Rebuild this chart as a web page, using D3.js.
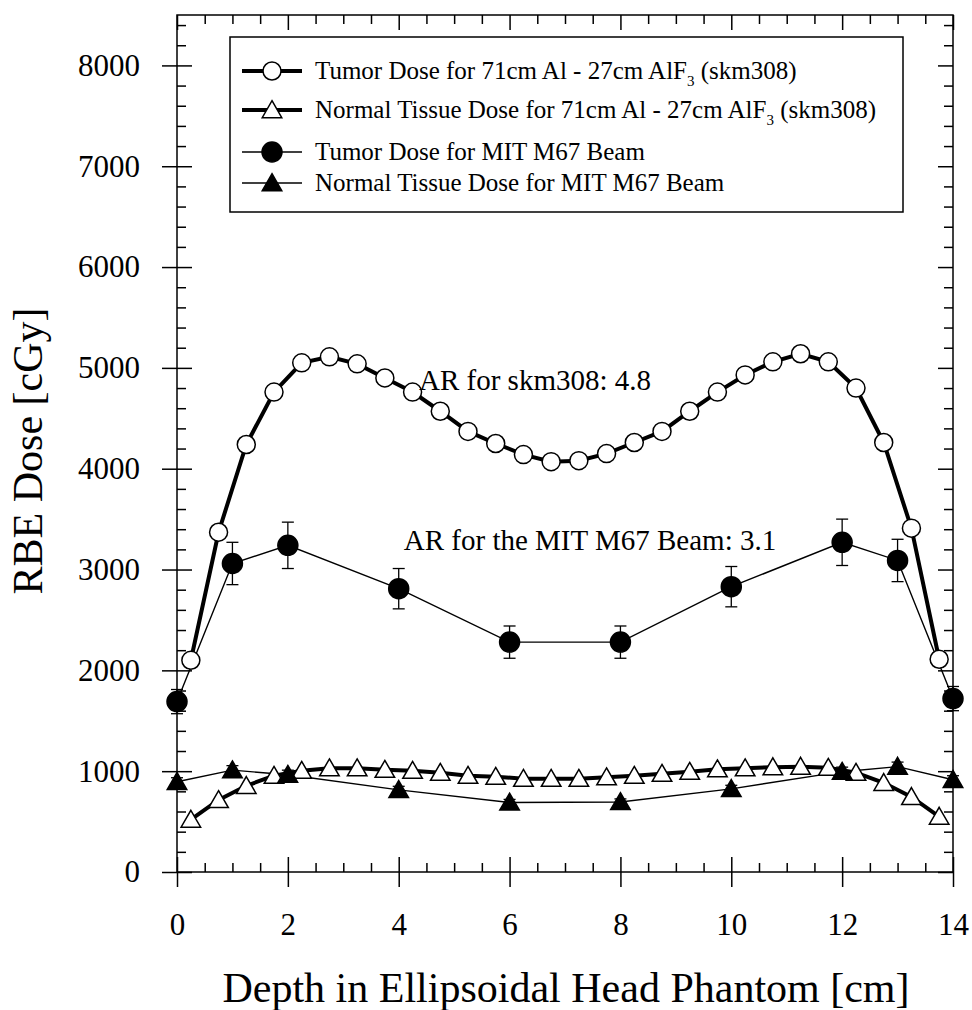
<!DOCTYPE html>
<html>
<head>
<meta charset="utf-8">
<script src="https://cdn.jsdelivr.net/npm/d3@7"></script>
<style>
  body { margin: 0; background: #fff; }
  svg text { font-family: "Liberation Serif", "Times New Roman", serif; fill: #000; }
</style>
</head>
<body>
<div id="chart"></div>
<script>
// skm308 series (every 0.5 cm starting at 0.25)
const skmDepth = [0.25, 0.75, 1.25, 1.75, 2.25, 2.75, 3.25, 3.75, 4.25, 4.75, 5.25, 5.75, 6.25, 6.75,
  7.25, 7.75, 8.25, 8.75, 9.25, 9.75, 10.25, 10.75, 11.25, 11.75, 12.25, 12.75, 13.25, 13.75];
const skmTumor = [2100, 3370, 4240, 4760, 5050, 5110, 5040, 4900, 4760, 4570, 4370, 4250, 4140, 4070,
  4080, 4150, 4260, 4370, 4570, 4760, 4930, 5060, 5140, 5060, 4800, 4260, 3410, 2110];
const skmNormal = [520, 715, 855, 955, 1005, 1030, 1030, 1015, 1005, 985, 955, 945, 925, 925,
  925, 940, 955, 975, 995, 1020, 1030, 1040, 1045, 1035, 985, 885, 745, 550];

// MIT M67 beam series
const mitDepth = [0, 1, 2, 4, 6, 8, 10, 12, 13, 14];
const mitTumor = [1690, 3060, 3240, 2810, 2280, 2280, 2830, 3270, 3090, 1720];
const mitTumorErr = [120, 210, 230, 200, 160, 160, 200, 230, 210, 120];
const mitNormal = [895, 1010, 965, 815, 690, 695, 825, 995, 1045, 915];
const mitNormalErr = [40, 45, 45, 35, 30, 30, 35, 45, 45, 40];

const xMajor = [0, 2, 4, 6, 8, 10, 12, 14];
const yMajor = [0, 1000, 2000, 3000, 4000, 5000, 6000, 7000, 8000];

const legendItems = [
  { text: "Tumor Dose for 71cm Al - 27cm AlF", sub: "3", tail: " (skm308)", mark: "circle", filled: false, thick: true },
  { text: "Normal Tissue Dose for 71cm Al - 27cm AlF", sub: "3", tail: " (skm308)", mark: "triangle", filled: false, thick: true },
  { text: "Tumor Dose for MIT M67 Beam", mark: "circle", filled: true, thick: false },
  { text: "Normal Tissue Dose for MIT M67 Beam", mark: "triangle", filled: true, thick: false }
];

const W = 972, H = 1010;
const pLeft = 177, pRight = 953, pTop = 15, pBottom = 872;

const svg = d3.select('#chart').append('svg')
  .attr('width', W).attr('height', H);

const x = d3.scaleLinear().domain([0, 14]).range([pLeft, pRight]);
const y = d3.scaleLinear().domain([0, 8500]).range([pBottom, pTop]);

const xMinor = d3.range(0, 14.01, 0.5).filter(v => v % 2 !== 0);
const yMinor = d3.range(0, 8500, 200).filter(v => v % 1000 !== 0);

// frame
svg.append('rect')
  .attr('x', pLeft).attr('y', pTop)
  .attr('width', pRight - pLeft).attr('height', pBottom - pTop)
  .attr('fill', 'none').attr('stroke', '#000').attr('stroke-width', 1.5);

function styleAxis(g) {
  g.select('.domain').remove();
  g.selectAll('.tick line').attr('stroke', '#000').attr('stroke-width', 1.5);
  g.selectAll('.tick text').style('font-size', '31px');
}

// left axis: labels + crossing major ticks + inner minor ticks
svg.append('g').attr('transform', `translate(${pLeft},0)`)
  .call(d3.axisLeft(y).tickValues(yMajor).tickSize(15).tickPadding(22).tickFormat(d3.format('d')))
  .call(styleAxis);
svg.append('g').attr('transform', `translate(${pLeft},0)`)
  .call(d3.axisRight(y).tickValues(yMajor).tickSize(15).tickFormat(''))
  .call(styleAxis);
svg.append('g').attr('transform', `translate(${pLeft},0)`)
  .call(d3.axisRight(y).tickValues(yMinor).tickSize(9).tickFormat(''))
  .call(styleAxis);

// right axis: inward ticks
svg.append('g').attr('transform', `translate(${pRight},0)`)
  .call(d3.axisLeft(y).tickValues(yMajor).tickSize(15).tickFormat(''))
  .call(styleAxis);
svg.append('g').attr('transform', `translate(${pRight},0)`)
  .call(d3.axisLeft(y).tickValues(yMinor).tickSize(9).tickFormat(''))
  .call(styleAxis);

// bottom axis
svg.append('g').attr('transform', `translate(0,${pBottom})`)
  .call(d3.axisBottom(x).tickValues(xMajor).tickSize(15).tickPadding(26).tickFormat(d3.format('d')))
  .call(styleAxis);
svg.append('g').attr('transform', `translate(0,${pBottom})`)
  .call(d3.axisTop(x).tickValues(xMajor).tickSize(15).tickFormat(''))
  .call(styleAxis);
svg.append('g').attr('transform', `translate(0,${pBottom})`)
  .call(d3.axisTop(x).tickValues(xMinor).tickSize(9).tickFormat(''))
  .call(styleAxis);

// top axis: inward ticks
svg.append('g').attr('transform', `translate(0,${pTop})`)
  .call(d3.axisBottom(x).tickValues(xMajor).tickSize(15).tickFormat(''))
  .call(styleAxis);
svg.append('g').attr('transform', `translate(0,${pTop})`)
  .call(d3.axisBottom(x).tickValues(xMinor).tickSize(9).tickFormat(''))
  .call(styleAxis);

// axis titles
svg.append('text')
  .attr('transform', 'translate(42,451) rotate(-90)')
  .attr('text-anchor', 'middle')
  .style('font-size', '42px')
  .text('RBE Dose [cGy]');

svg.append('text')
  .attr('x', 566).attr('y', 1002)
  .attr('text-anchor', 'middle')
  .style('font-size', '42px')
  .text('Depth in Ellipsoidal Head Phantom [cm]');

// series
const plot = svg.append('g');
const line = d3.line().x(d => x(d[0])).y(d => y(d[1]));

function zip(a, b) { return a.map((v, i) => [v, b[i]]); }

const triSym = d3.symbol().type(d3.symbolTriangle);

function drawMarkers(data, mark, filled, size) {
  if (mark === 'circle') {
    plot.selectAll(null).data(data).enter().append('circle')
      .attr('cx', d => x(d[0])).attr('cy', d => y(d[1]))
      .attr('r', size)
      .attr('fill', filled ? '#000' : '#fff')
      .attr('stroke', '#000').attr('stroke-width', 1.5);
  } else {
    plot.selectAll(null).data(data).enter().append('path')
      .attr('d', triSym.size(size)())
      .attr('transform', d => `translate(${x(d[0])},${y(d[1]) + 2})`)
      .attr('fill', filled ? '#000' : '#fff')
      .attr('stroke', '#000').attr('stroke-width', 1.5);
  }
}

function drawErrors(depths, vals, errs) {
  const g = plot.selectAll(null).data(depths.map((d, i) => [d, vals[i], errs[i]])).enter().append('g');
  g.append('line')
    .attr('x1', d => x(d[0])).attr('x2', d => x(d[0]))
    .attr('y1', d => y(d[1] - d[2])).attr('y2', d => y(d[1] + d[2]))
    .attr('stroke', '#000').attr('stroke-width', 1.3);
  [-1, 1].forEach(s => {
    g.append('line')
      .attr('x1', d => x(d[0]) - 6).attr('x2', d => x(d[0]) + 6)
      .attr('y1', d => y(d[1] + s * d[2])).attr('y2', d => y(d[1] + s * d[2]))
      .attr('stroke', '#000').attr('stroke-width', 1.3);
  });
}

// MIT lines (thin)
const mitT = zip(mitDepth, mitTumor);
const mitN = zip(mitDepth, mitNormal);
plot.append('path').datum(mitT).attr('d', line).attr('fill', 'none').attr('stroke', '#000').attr('stroke-width', 1.4);
plot.append('path').datum(mitN).attr('d', line).attr('fill', 'none').attr('stroke', '#000').attr('stroke-width', 1.4);

// skm308 lines (thick)
const skmT = zip(skmDepth, skmTumor);
const skmN = zip(skmDepth, skmNormal);
plot.append('path').datum(skmT).attr('d', line).attr('fill', 'none').attr('stroke', '#000').attr('stroke-width', 4);
plot.append('path').datum(skmN).attr('d', line).attr('fill', 'none').attr('stroke', '#000').attr('stroke-width', 4);

drawErrors(mitDepth, mitTumor, mitTumorErr);
drawErrors(mitDepth, mitNormal, mitNormalErr);

drawMarkers(skmN, 'triangle', false, 165);
drawMarkers(skmT, 'circle', false, 9);
drawMarkers(mitN, 'triangle', true, 165);
drawMarkers(mitT, 'circle', true, 10);

// annotations
svg.append('text').attr('x', 535).attr('y', 390).attr('text-anchor', 'middle')
  .style('font-size', '29px').text('AR for skm308: 4.8');
svg.append('text').attr('x', 590).attr('y', 550).attr('text-anchor', 'middle')
  .style('font-size', '29px').text('AR for the MIT M67 Beam: 3.1');

// legend
const lg = svg.append('g');
lg.append('rect').attr('x', 230).attr('y', 37).attr('width', 673).attr('height', 175)
  .attr('fill', '#fff').attr('stroke', '#000').attr('stroke-width', 1.5);

const rowY = [71, 110, 152, 183];
legendItems.forEach((it, i) => {
  const cy = rowY[i];
  lg.append('line').attr('x1', 242).attr('x2', 302).attr('y1', cy).attr('y2', cy)
    .attr('stroke', '#000').attr('stroke-width', it.thick ? 4 : 1.4);
  if (it.mark === 'circle') {
    lg.append('circle').attr('cx', 272).attr('cy', cy).attr('r', it.filled ? 10 : 9)
      .attr('fill', it.filled ? '#000' : '#fff').attr('stroke', '#000').attr('stroke-width', 1.5);
  } else {
    lg.append('path').attr('d', triSym.size(165)()).attr('transform', `translate(272,${cy + 2})`)
      .attr('fill', it.filled ? '#000' : '#fff').attr('stroke', '#000').attr('stroke-width', 1.5);
  }
  const t = lg.append('text').attr('x', 315).attr('y', cy + 8).style('font-size', '25px');
  t.append('tspan').text(it.text);
  if (it.sub) {
    t.append('tspan').attr('dy', 7).style('font-size', '15px').text(it.sub);
    t.append('tspan').attr('dy', -7).text(it.tail);
  }
});
</script>
</body>
</html>
